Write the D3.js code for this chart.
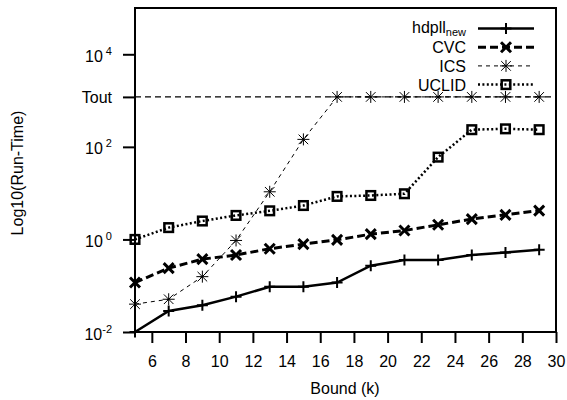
<!DOCTYPE html>
<html>
<head>
<meta charset="utf-8">
<script src="https://cdn.jsdelivr.net/npm/d3@7"></script>
<style>
  body { margin: 0; background: #fff; }
  text { font-family: "Liberation Sans", Arial, sans-serif; fill: #000; }
</style>
</head>
<body>
<div id="chart"></div>
<script>
// data (seconds, log scale)
const bounds = [5, 7, 9, 11, 13, 15, 17, 19, 21, 23, 25, 27, 29];
const TOUT = 1200;
const hdpllNew = [0.01, 0.0285, 0.038, 0.058, 0.095, 0.095, 0.117, 0.27, 0.36, 0.36, 0.46, 0.52, 0.6];
const cvc = [0.117, 0.24, 0.375, 0.46, 0.63, 0.79, 0.98, 1.3, 1.56, 2.07, 2.75, 3.4, 4.2];
const ics = [0.04, 0.051, 0.157, 0.95, 10.7, 145, TOUT, TOUT, TOUT, TOUT, TOUT, TOUT, TOUT];
const uclid = [1.0, 1.8, 2.5, 3.3, 4.15, 5.4, 8.5, 8.9, 9.7, 60, 235, 245, 235];

const xTicks = [6, 8, 10, 12, 14, 16, 18, 20, 22, 24, 26, 28, 30];
const yTicks = [0.01, 1, 100, TOUT, 10000];
const yTickLabels = [["10", "-2"], ["10", " 0"], ["10", " 2"], ["Tout", ""], ["10", " 4"]];

const width = 567,
  height = 400;
const plot = { left: 135, right: 556, top: 8, bottom: 332 };

const svg = d3
  .select("#chart")
  .append("svg")
  .attr("width", width)
  .attr("height", height);

const x = d3.scaleLinear().domain([5, 30]).range([plot.left, plot.right]);
const y = d3.scaleLog().domain([0.01, 100000]).range([plot.bottom, plot.top]);

// x axis
const xAxis = svg
  .append("g")
  .attr("transform", `translate(0,${plot.bottom})`)
  .call(d3.axisBottom(x).tickValues(xTicks).tickSize(11).tickPadding(13));
xAxis.select(".domain").remove();
xAxis.selectAll(".tick line").attr("stroke-width", 2);
xAxis.selectAll(".tick text").style("font-size", "16px");

// y axis
const yAxis = svg
  .append("g")
  .attr("transform", `translate(${plot.left},0)`)
  .call(d3.axisLeft(y).tickValues(yTicks).tickSize(12).tickFormat(() => ""));
yAxis.select(".domain").remove();
yAxis.selectAll(".tick line").attr("stroke-width", 2);
yAxis.selectAll(".tick text").each(function (d, i) {
  const t = d3.select(this).attr("x", -23).attr("dy", null).style("font-size", "16px");
  const [base, sup] = yTickLabels[i];
  if (sup === "") {
    t.attr("y", 6).text(base);
  } else {
    t.attr("y", 7).text(base);
    t.append("tspan").attr("dy", -7).style("font-size", "11px").style("white-space", "pre").text(sup);
  }
});

// Tout reference line
svg
  .append("line")
  .attr("x1", plot.left)
  .attr("x2", plot.right)
  .attr("y1", y(TOUT))
  .attr("y2", y(TOUT))
  .attr("stroke", "#000")
  .attr("stroke-width", 1.4)
  .attr("stroke-dasharray", "6,4");

const series = [
  { name: "hdpll", sub: "new", values: hdpllNew, width: 2.5, dash: null, marker: "plus" },
  { name: "CVC", sub: "", values: cvc, width: 3, dash: "8,4", marker: "cross" },
  { name: "ICS", sub: "", values: ics, width: 1, dash: "4,4", marker: "star" },
  { name: "UCLID", sub: "", values: uclid, width: 2.5, dash: "2,2.4", marker: "square" },
];

const line = d3
  .line()
  .x((d) => x(d[0]))
  .y((d) => y(d[1]));

function drawMarker(g, type, cx, cy) {
  if (type === "plus") {
    const s = 5.5;
    g.append("path")
      .attr("d", `M${cx - s},${cy}H${cx + s}M${cx},${cy - s}V${cy + s}`)
      .attr("stroke", "#000").attr("stroke-width", 2);
  } else if (type === "cross") {
    const s = 5;
    g.append("path")
      .attr("d", `M${cx - s},${cy - s}L${cx + s},${cy + s}M${cx - s},${cy + s}L${cx + s},${cy - s}`)
      .attr("stroke", "#000").attr("stroke-width", 3);
  } else if (type === "star") {
    const s = 6;
    g.append("path")
      .attr("d", `M${cx - s},${cy}H${cx + s}M${cx},${cy - s}V${cy + s}M${cx - s * 0.8},${cy - s * 0.8}L${cx + s * 0.8},${cy + s * 0.8}M${cx - s * 0.8},${cy + s * 0.8}L${cx + s * 0.8},${cy - s * 0.8}`)
      .attr("stroke", "#000").attr("stroke-width", 1);
  } else {
    const s = 4.3;
    g.append("rect")
      .attr("x", cx - s).attr("y", cy - s)
      .attr("width", 2 * s).attr("height", 2 * s)
      .attr("fill", "none")
      .attr("stroke", "#000").attr("stroke-width", 2.5);
  }
}

const seriesGroup = svg.append("g");
series.forEach((s) => {
  const pts = bounds.map((b, i) => [b, s.values[i]]);
  seriesGroup
    .append("path")
    .datum(pts)
    .attr("d", line)
    .attr("fill", "none")
    .attr("stroke", "#000")
    .attr("stroke-width", s.width)
    .attr("stroke-dasharray", s.dash);
  pts.forEach((p) => drawMarker(seriesGroup, s.marker, x(p[0]), y(p[1])));
});

// frame
svg
  .append("rect")
  .attr("x", plot.left)
  .attr("y", plot.top)
  .attr("width", plot.right - plot.left)
  .attr("height", plot.bottom - plot.top)
  .attr("fill", "none")
  .attr("stroke", "#000")
  .attr("stroke-width", 2);

// legend
const legend = svg.append("g");
series.forEach((s, i) => {
  const ly = 28.5 + i * 18.7;
  const t = legend
    .append("text")
    .attr("x", 466)
    .attr("y", ly + (s.sub ? 4.5 : 6))
    .attr("text-anchor", "end")
    .style("font-size", "16px")
    .text(s.name);
  if (s.sub) {
    t.append("tspan").attr("dy", 3).style("font-size", "11px").text(s.sub);
  }
  legend
    .append("line")
    .attr("x1", 478)
    .attr("x2", 534)
    .attr("y1", ly)
    .attr("y2", ly)
    .attr("stroke", "#000")
    .attr("stroke-width", s.width)
    .attr("stroke-dasharray", s.dash);
  drawMarker(legend, s.marker, 506, ly);
});

// axis titles
svg
  .append("text")
  .attr("x", 345)
  .attr("y", 394)
  .attr("text-anchor", "middle")
  .style("font-size", "16px")
  .text("Bound (k)");

svg
  .append("text")
  .attr("transform", "translate(23,173) rotate(-90)")
  .attr("text-anchor", "middle")
  .style("font-size", "16px")
  .text("Log10(Run-Time)");
</script>
</body>
</html>
